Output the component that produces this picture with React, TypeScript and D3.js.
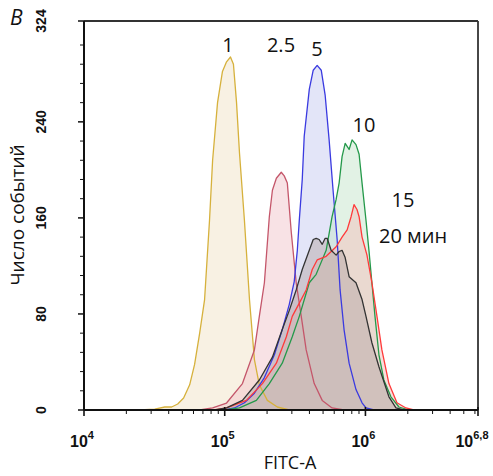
import React from "react";
import * as d3 from "d3";

// log10(FITC-A) and event counts, per series
const s1X = [4.397,4.503,4.574,4.623,4.666,4.708,4.751,4.786,4.822,4.857,4.892,4.914,4.949,4.984,5.013,5.041,5.062,5.084,5.105,5.140,5.176,5.211,5.246,5.303,5.374,5.459];
const s1Y = [0,0.8,2.5,2.5,5,10,21,38,64,92,158,208,256,282,290,294,288,256,214,158,92,42,21,8,2.5,0];
const s25X = [4.822,4.914,5.013,5.126,5.211,5.246,5.282,5.317,5.339,5.367,5.402,5.423,5.445,5.473,5.508,5.544,5.579,5.636,5.693,5.763,5.848];
const s25Y = [0,1.7,5.8,22,50,78,106,161,183,193,198,195,189,148,106,78,50,22,8,1.7,0];
const s5X = [4.999,5.069,5.140,5.211,5.282,5.353,5.409,5.459,5.494,5.516,5.530,5.551,5.565,5.601,5.629,5.657,5.686,5.714,5.742,5.770,5.799,5.820,5.848,5.884,5.933,5.976,6.004,6.061];
const s5Y = [0,1.7,6,14,27,46,67,88,107,133,158,192,228,267,283,287,283,262,225,183,142,100,67,39,17,6,1.7,0];
const s10X = [4.999,5.105,5.225,5.317,5.409,5.480,5.530,5.601,5.650,5.671,5.721,5.763,5.791,5.813,5.834,5.856,5.884,5.905,5.933,5.955,5.976,6.004,6.025,6.046,6.068,6.096,6.131,6.181,6.238,6.309];
const s10Y = [0,1.7,8,22,39,61,78,106,113,119,133,161,175,189,211,222,217,225,221,213,189,158,133,106,78,46,25,11,2.5,0];
const s15X = [4.928,5.013,5.154,5.268,5.367,5.438,5.480,5.530,5.579,5.622,5.657,5.721,5.792,5.834,5.870,5.898,5.919,5.940,5.955,5.976,6.011,6.046,6.082,6.117,6.167,6.224,6.288,6.344];
const s15Y = [0,1.7,8,22,39,61,78,89,100,117,125,128,136,144,150,161,171,167,161,144,129,106,78,50,22,6,1.7,0];
const s20X = [4.928,5.013,5.126,5.246,5.339,5.409,5.459,5.508,5.551,5.601,5.629,5.650,5.671,5.693,5.714,5.728,5.756,5.792,5.813,5.834,5.856,5.884,5.933,5.976,6.004,6.046,6.096,6.167,6.217,6.273];
const s20Y = [0,1.7,8,25,44,67,83,100,117,133,142,143,142,138,143,143,133,129,132,133,127,111,106,92,78,56,36,11,1.7,0];

const seriesNames = ["1", "2.5", "5", "10", "15", "20"];
const seriesColors = ["#d6b13c", "#c4566a", "#3a3ae0", "#24994a", "#ff3a3a", "#333333"];
const seriesFills = ["#f2e4c8", "#f2c6cc", "#c8cbf2", "#c6e6cc", "#f2c0bc", "#b8aaa8"];

const yMajor = [0, 80, 160, 240, 324];
const xMajor = [4, 5, 6, 6.8];
const xMajorLabels = ["4", "5", "6", "6,8"];

export default function App() {
  const W = 493, H = 476;
  const left = 84, right = 478, top = 21, bottom = 410;
  const x = d3.scaleLog().domain([1e4, Math.pow(10, 6.8)]).range([left, right]);
  const y = d3.scaleLinear().domain([0, 324]).range([bottom, top]);

  const xsList = [s1X, s25X, s5X, s10X, s15X, s20X];
  const ysList = [s1Y, s25Y, s5Y, s10Y, s15Y, s20Y];

  const area = d3.area<[number, number]>()
    .x((d) => x(Math.pow(10, d[0])))
    .y0(y(0))
    .y1((d) => y(d[1]))
    .curve(d3.curveLinear);
  const line = d3.line<[number, number]>()
    .x((d) => x(Math.pow(10, d[0])))
    .y((d) => y(d[1]))
    .curve(d3.curveLinear);

  const minorX: number[] = [];
  for (let dec = 4; dec <= 6; dec++) {
    for (let m = 2; m <= 9; m++) {
      const v = m * Math.pow(10, dec);
      if (v < Math.pow(10, 6.8)) minorX.push(v);
    }
  }
  const minorY: number[] = [];
  for (let v = 16; v < 324; v += 16) if (v % 80 !== 0) minorY.push(v);

  const labelFont = "'Open Sans', 'Noto Sans', sans-serif";
  const tickFont = "'Liberation Sans', Arial, sans-serif";

  const labelPos: [string, number, number, string][] = [
    ["1", 228, 52, "middle"],
    ["2.5", 281, 52, "middle"],
    ["5", 317, 56, "middle"],
    ["10", 364, 132, "middle"],
    ["15", 403, 207, "middle"],
    ["20 мин", 379, 243, "start"],
  ];

  return (
    <svg width={W} height={H} style={{ display: "block", position: "absolute", left: 0, top: 0 }}>
      <rect x={0} y={0} width={W} height={H} fill="#ffffff" />
      {xsList.map((xs, i) => {
        const pts: [number, number][] = xs.map((v, j) => [v, ysList[i][j]]);
        return (
          <path key={i} d={area(pts) || ""} fill={seriesFills[i]} fillOpacity={0.5} stroke="none" />
        );
      })}
      {xsList.map((xs, i) => {
        const pts: [number, number][] = xs.map((v, j) => [v, ysList[i][j]]);
        return (
          <path key={"l" + i} d={line(pts) || ""} fill="none" stroke={seriesColors[i]} strokeWidth={1.3} strokeLinejoin="round" />
        );
      })}
      {/* frame */}
      <line x1={left} x2={right} y1={top} y2={top} stroke="#333" strokeWidth={1.8} />
      <line x1={right} x2={right} y1={top} y2={bottom} stroke="#333" strokeWidth={1.8} />
      <line x1={left} x2={right} y1={bottom} y2={bottom} stroke="#111" strokeWidth={2} />
      <line x1={left} x2={left} y1={top} y2={bottom} stroke="#111" strokeWidth={2} />
      {/* y ticks */}
      {yMajor.map((v) => (
        <g key={"ym" + v}>
          <line x1={left - 6} x2={left} y1={y(v)} y2={y(v)} stroke="#111" strokeWidth={1.5} />
          <text
            transform={`translate(${left - 43},${y(v)}) rotate(-90)`}
            textAnchor="middle"
            dy="0.35em"
            fontFamily={tickFont}
            fontWeight="bold"
            fontSize={14}
            fill="#111"
          >
            {v}
          </text>
        </g>
      ))}
      {minorY.map((v) => (
        <line key={"yn" + v} x1={left - 4} x2={left} y1={y(v)} y2={y(v)} stroke="#111" strokeWidth={1} />
      ))}
      {/* x ticks */}
      {xMajor.map((e, i) => (
        <g key={"xm" + e}>
          <line x1={x(Math.pow(10, e))} x2={x(Math.pow(10, e))} y1={bottom - 3} y2={bottom + 6} stroke="#111" strokeWidth={1.6} />
          <text x={x(Math.pow(10, e)) + (i === 3 ? -6 : -2)} y={bottom + 37} textAnchor="middle" fontFamily={tickFont} fontWeight="bold" fontSize={16} fill="#111">
            10
            <tspan dy={-8} fontSize={11}>{xMajorLabels[i]}</tspan>
          </text>
        </g>
      ))}
      {minorX.map((v) => (
        <line key={"xn" + v} x1={x(v)} x2={x(v)} y1={bottom} y2={bottom + 4} stroke="#111" strokeWidth={1} />
      ))}
      {/* curve labels */}
      {labelPos.map(([t, lx, ly, anc]) => (
        <text key={t} x={lx} y={ly} textAnchor={anc} fontFamily={labelFont} fontSize={20} fill="#111">
          {t}
        </text>
      ))}
      {/* titles */}
      <text x={10} y={25} fontFamily={labelFont} fontStyle="italic" fontSize={21} fill="#111">B</text>
      <text transform={`translate(24,215) rotate(-90)`} textAnchor="middle" fontFamily={labelFont} fontSize={19} fill="#111">
        Число событий
      </text>
      <text x={290} y={469} textAnchor="middle" fontFamily={labelFont} fontSize={18} fill="#111">FITC-A</text>
    </svg>
  );
}
